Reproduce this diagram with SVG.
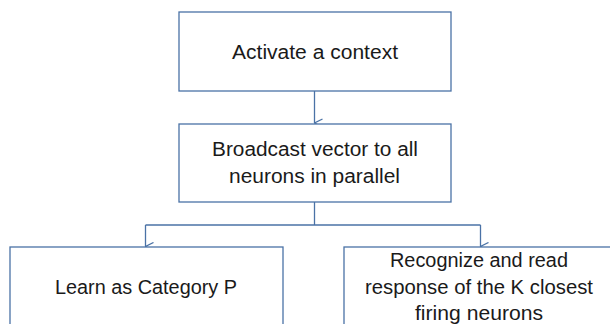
<svg xmlns="http://www.w3.org/2000/svg" width="610" height="324" viewBox="0 0 610 324">
<defs>
<marker id="arr" markerWidth="10" markerHeight="10" refX="5" refY="9" orient="auto" markerUnits="userSpaceOnUse" viewBox="0 0 10 10">
<path d="M1,1 L5,9 L9,1" fill="none" stroke="#4a72a6" stroke-width="1.3"/>
</marker>
<style>
.box{fill:#fff;stroke:#4a72a6;stroke-width:1.3}
.ln{fill:none;stroke:#4a72a6;stroke-width:1.3}
text{font-family:"Liberation Sans",Arial,sans-serif;font-size:19.5px;fill:#1a1a1a;text-anchor:middle}
</style>
</defs>
<rect width="610" height="324" fill="#fff"/>
<g id="connectors">
<path class="ln" d="M314.5,91 V123" marker-end="url(#arr)"/>
<path class="ln" d="M314.5,202 V225"/>
<path class="ln" d="M145.5,225 H480.5"/>
<path class="ln" d="M145.5,225 V246.5" marker-end="url(#arr)"/>
<path class="ln" d="M480.5,225 V246.5" marker-end="url(#arr)"/>
</g>
<g id="node-activate">
<rect class="box" x="179" y="12" width="272" height="79"/>
<text x="315" y="59" textLength="166" lengthAdjust="spacingAndGlyphs">Activate a context</text>
</g>
<g id="node-broadcast">
<rect class="box" x="179" y="124" width="272" height="78"/>
<text x="315" y="156" textLength="206" lengthAdjust="spacingAndGlyphs">Broadcast vector to all</text>
<text x="314.5" y="183" textLength="171" lengthAdjust="spacingAndGlyphs">neurons in parallel</text>
</g>
<g id="node-learn">
<rect class="box" x="10" y="247" width="273" height="90"/>
<text x="146" y="294" textLength="182" lengthAdjust="spacingAndGlyphs">Learn as Category P</text>
</g>
<g id="node-recognize">
<rect class="box" x="344" y="247" width="280" height="90"/>
<text x="479" y="267" textLength="178" lengthAdjust="spacingAndGlyphs">Recognize and read</text>
<text x="479" y="294" textLength="228" lengthAdjust="spacingAndGlyphs">response of the K closest</text>
<text x="479" y="320" textLength="128" lengthAdjust="spacingAndGlyphs">firing neurons</text>
</g>
</svg>
